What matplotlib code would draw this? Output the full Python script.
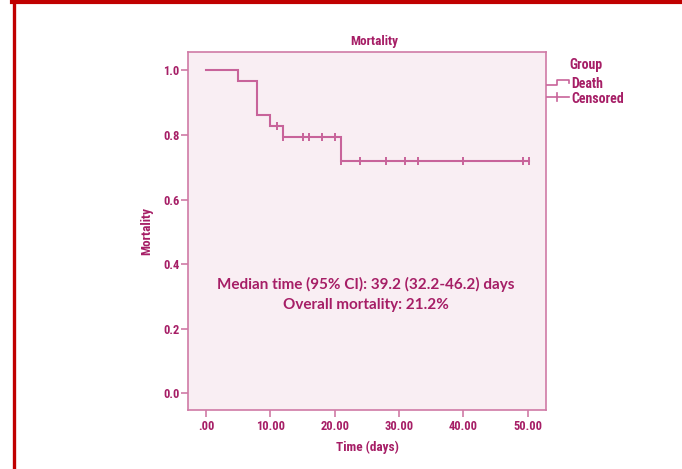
import numpy as np
import matplotlib
matplotlib.use("Agg")
import matplotlib.pyplot as plt
from matplotlib.lines import Line2D

# ---- data ----
step_times = [0.0, 5.0, 8.0, 10.0, 12.0, 21.0]
step_surv = [1.0, 0.966, 0.862, 0.828, 0.793, 0.72]
censor_times = [11.0, 12.0, 15.0, 16.0, 18.0, 20.0, 21.0, 24.0, 28.0, 31.0, 33.0, 40.0, 49.3, 50.2]
end_time = 50.2
x_ticks = [0, 10, 20, 30, 40, 50]
x_tick_labels = [".00", "10.00", "20.00", "30.00", "40.00", "50.00"]
y_ticks = [0.0, 0.2, 0.4, 0.6, 0.8, 1.0]
y_tick_labels = ["0.0", "0.2", "0.4", "0.6", "0.8", "1.0"]
annot_lines = ["Median time (95% CI): 39.2 (32.2-46.2) days", "Overall mortality: 21.2%"]

LINE = "#C8639A"
TEXT = "#A61E66"
SPINE = "#D07AA6"
BG = "#F9EEF3"
NARROW = ["Liberation Sans Narrow", "Roboto Condensed", "Open Sans Condensed", "Arial Narrow",
          "Liberation Sans", "DejaVu Sans"]

W, H = 682, 469
fig = plt.figure(figsize=(W / 100, H / 100), dpi=100)
fig.patch.set_facecolor("white")
ax = fig.add_axes([188 / W, 1 - 410 / H, (546 - 188) / W, (410 - 52) / H])
ax.set_facecolor(BG)

xs = list(step_times) + [end_time]
ys = list(step_surv) + [step_surv[-1]]
ax.step(xs, ys, where="post", color=LINE, lw=1.5, solid_joinstyle="miter")
idx = np.searchsorted(step_times, censor_times, side="right") - 1
cy = np.array(step_surv)[idx]
ax.plot(censor_times, cy, linestyle="none", marker="|", ms=6, mew=1.4, color=LINE)

ax.set_xlim(-2.8, 52.85)
ax.set_ylim(-0.052, 1.057)
ax.set_xticks(x_ticks)
ax.set_xticklabels(x_tick_labels)
ax.set_yticks(y_ticks)
ax.set_yticklabels(y_tick_labels)
for s in ax.spines.values():
    s.set_color(SPINE)
    s.set_linewidth(1.2)
ax.tick_params(direction="out", length=5, width=1.2, color=SPINE, labelcolor=TEXT, labelsize=9)
ax.tick_params(axis="y", pad=1)
ax.tick_params(axis="x", pad=2.5)
for lab in ax.get_xticklabels() + ax.get_yticklabels():
    lab.set_family(NARROW)
    lab.set_fontweight("bold")

ax.set_xlabel("Time (days)", family=NARROW, fontweight="bold", fontsize=9.5, color=TEXT, labelpad=5)
ax.set_ylabel("Mortality", family=NARROW, fontweight="bold", fontsize=9.5, color=TEXT, labelpad=7)
fig.text(374 / W, 1 - 42 / H, "Mortality", ha="center", va="center", family=NARROW,
         fontweight="bold", fontsize=9.5, color=TEXT)

ax.text(24.9, 0.338, annot_lines[0], ha="center", va="center", family=["Lato", "DejaVu Sans"],
        fontweight="bold", fontsize=11, color=TEXT)
ax.text(24.9, 0.272, annot_lines[1], ha="center", va="center", family=["Lato", "DejaVu Sans"],
        fontweight="bold", fontsize=11, color=TEXT)

# legend (drawn outside axes)
def fx(px):
    return px / W
def fy(py):
    return 1 - py / H
fig.text(fx(569), fy(64.5), "Group", ha="left", va="center", family=NARROW, fontweight="bold", fontsize=10, color=TEXT)
fig.add_artist(Line2D([fx(547), fx(557), fx(557), fx(569), fx(569)],
                      [fy(85), fy(85), fy(80.5), fy(80.5), fy(83)], color=LINE, lw=1.2))
fig.text(fx(571), fy(84.5), "Death", ha="left", va="center", family=NARROW, fontweight="bold", fontsize=10, color=TEXT)
fig.add_artist(Line2D([fx(547), fx(569)], [fy(97), fy(97)], color=LINE, lw=1.2))
fig.add_artist(Line2D([fx(557), fx(557)], [fy(93), fy(101)], color=LINE, lw=1.2))
fig.text(fx(571), fy(99), "Censored", ha="left", va="center", family=NARROW, fontweight="bold", fontsize=10, color=TEXT)

# red frame (top and left)
fig.add_artist(Line2D([fx(12), fx(W)], [fy(2), fy(2)], color="#C00000", lw=3.0))
fig.add_artist(Line2D([fx(13.5), fx(13.5)], [fy(0), fy(H)], color="#C00000", lw=2.4))

fig.savefig("out.png", dpi=100)
